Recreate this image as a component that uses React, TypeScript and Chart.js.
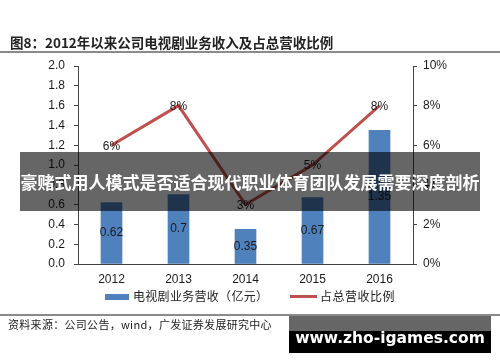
import React, { useEffect, useRef } from "react";
import { Chart, registerables } from "chart.js";

Chart.register(...registerables);

const years = ["2012", "2013", "2014", "2015", "2016"];
const revenue = [0.62, 0.7, 0.35, 0.67, 1.35];
const revenueLabels = ["0.62", "0.7", "0.35", "0.67", "1.35"];
const share = [6, 8, 3, 5, 8];
const shareLabels = ["6%", "8%", "3%", "5%", "8%"];
const seriesNames = ["电视剧业务营收（亿元）", "占总营收比例"];
const titleText = "图8：2012年以来公司电视剧业务收入及占总营收比例";
const sourceText = "资料来源：公司公告，wind，广发证券发展研究中心";
const bannerText = "豪赌式用人模式是否适合现代职业体育团队发展需要深度剖析";
const watermarkText = "www.zho-igames.com";

const BAR = "#4F81BD";
const LINE = "#C0504D";
const TICK_FONT = "'Liberation Sans', Arial, sans-serif";
const CJK = "'Noto Sans CJK SC', sans-serif";

const labelPlugin = {
  id: "valueLabels",
  afterDatasetsDraw(chart: any) {
    const ctx = chart.ctx;
    ctx.save();
    ctx.font = `12px ${TICK_FONT}`;
    ctx.fillStyle = "#1a1a1a";
    ctx.textAlign = "center";
    ctx.textBaseline = "middle";
    const barMeta = chart.getDatasetMeta(0);
    barMeta.data.forEach((el: any, i: number) => {
      ctx.fillText(revenueLabels[i], el.x, (el.y + el.base) / 2);
    });
    const lineMeta = chart.getDatasetMeta(1);
    lineMeta.data.forEach((el: any, i: number) => {
      ctx.fillText(shareLabels[i], el.x, el.y + 1);
    });
    ctx.restore();
  },
};

export default function App() {
  const ref = useRef<HTMLCanvasElement | null>(null);
  useEffect(() => {
    if (!ref.current) return;
    const chart = new Chart(ref.current, {
      type: "bar",
      data: {
        labels: years,
        datasets: [
          {
            type: "bar",
            label: seriesNames[0],
            data: revenue,
            backgroundColor: BAR,
            barThickness: 21,
            yAxisID: "y",
            order: 2,
          },
          {
            type: "line",
            label: seriesNames[1],
            data: share,
            borderColor: LINE,
            backgroundColor: LINE,
            borderWidth: 3,
            pointRadius: 0,
            tension: 0,
            yAxisID: "y1",
            order: 1,
          },
        ] as any,
      },
      options: {
        animation: false,
        responsive: false,
        layout: { padding: { top: 66, bottom: 68, left: 0, right: 0 } },
        plugins: {
          legend: { display: false },
          title: { display: false },
          tooltip: { enabled: false },
        },
        scales: {
          x: {
            grid: { display: false, drawTicks: false },
            border: { display: true, color: "#444", width: 1 },
            ticks: { color: "#1a1a1a", font: { family: TICK_FONT, size: 12 }, padding: 8 },
            afterFit: (s: any) => { s.height = 30; },
          },
          y: {
            position: "left",
            min: 0,
            max: 2,
            ticks: {
              stepSize: 0.2,
              color: "#1a1a1a",
              font: { family: TICK_FONT, size: 12 },
              padding: 9,
              callback: (v: any) => Number(v).toFixed(1),
            },
            grid: { drawOnChartArea: false, drawTicks: true, tickLength: 4, color: "#444" },
            border: { display: true, color: "#444", width: 1 },
            afterFit: (s: any) => { s.width = 78; },
          },
          y1: {
            position: "right",
            min: 0,
            max: 10,
            ticks: {
              stepSize: 2,
              color: "#1a1a1a",
              font: { family: TICK_FONT, size: 12 },
              padding: 6,
              callback: (v: any) => `${v}%`,
            },
            grid: { drawOnChartArea: false, drawTicks: true, tickLength: 4, color: "#444" },
            border: { display: true, color: "#444", width: 1 },
            afterFit: (s: any) => { s.width = 87; },
          },
        },
      } as any,
      plugins: [labelPlugin],
    });
    return () => chart.destroy();
  }, []);

  return (
    <div style={{ position: "fixed", left: 0, top: 0, width: 500, height: 362, background: "#fff", overflow: "hidden" }}>
      <canvas ref={ref} width={500} height={362} style={{ position: "absolute", left: 0, top: 0, width: 500, height: 362 }} />
      <div style={{ position: "absolute", left: 10, top: 33, fontFamily: CJK, fontWeight: 700, fontSize: 13.5, color: "#222", whiteSpace: "nowrap", lineHeight: "18px" }}>
        {titleText}
      </div>
      <div style={{ position: "absolute", left: 0, top: 51, width: 500, height: 2, background: "#8a8a8a" }} />
      {/* legend */}
      <div style={{ position: "absolute", left: 105, top: 294, width: 24, height: 6, background: BAR }} />
      <div style={{ position: "absolute", left: 133, top: 287, fontFamily: CJK, fontSize: 12, letterSpacing: 0.3, color: "#222", whiteSpace: "nowrap", lineHeight: "18px" }}>
        {seriesNames[0]}
      </div>
      <div style={{ position: "absolute", left: 290, top: 295, width: 27, height: 3, background: LINE }} />
      <div style={{ position: "absolute", left: 320, top: 287, fontFamily: CJK, fontSize: 12, letterSpacing: 0.5, color: "#222", whiteSpace: "nowrap", lineHeight: "18px" }}>
        {seriesNames[1]}
      </div>
      <div style={{ position: "absolute", left: 0, top: 314, width: 500, height: 2, background: "#8a8a8a" }} />
      <div style={{ position: "absolute", left: 8, top: 316, fontFamily: CJK, fontSize: 11, letterSpacing: 0.3, color: "#222", whiteSpace: "nowrap", lineHeight: "16px" }}>
        {sourceText}
      </div>
      {/* banner overlay */}
      <div style={{ position: "absolute", left: 20, top: 152, width: 460, height: 59, background: "rgba(0,0,0,0.6)", display: "flex", alignItems: "center", justifyContent: "center" }}>
        <span style={{ fontFamily: CJK, fontWeight: 700, fontSize: 17, color: "#fff", whiteSpace: "nowrap", lineHeight: "20px" }}>
          {bannerText}
        </span>
      </div>
      {/* watermark */}
      <div style={{ position: "absolute", left: 289, top: 316, width: 202, height: 15, background: "#666" }} />
      <div style={{ position: "absolute", left: 289, top: 331, width: 202, height: 22, background: "#000" }} />
      <div style={{ position: "absolute", left: 289, top: 327, width: 202, height: 22, display: "flex", alignItems: "center", justifyContent: "center" }}>
        <span style={{ fontFamily: "'DejaVu Sans', sans-serif", fontWeight: 700, fontSize: 15.5, color: "#fff", whiteSpace: "nowrap", lineHeight: "20px" }}>
          {watermarkText}
        </span>
      </div>
    </div>
  );
}
